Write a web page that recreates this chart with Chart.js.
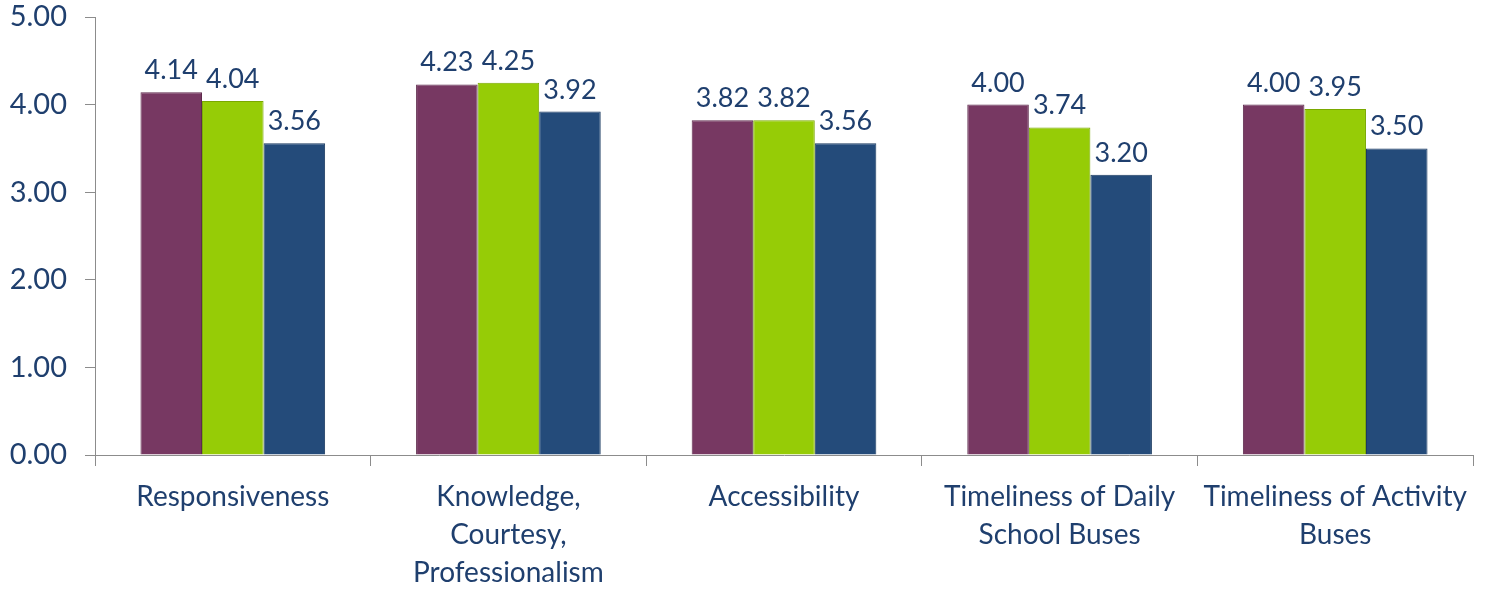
<!DOCTYPE html>
<html>
<head>
<meta charset="utf-8">
<script src="https://cdn.jsdelivr.net/npm/chart.js@4/dist/chart.umd.min.js"></script>
<style>
  html, body { margin: 0; padding: 0; background: #fff; }
  #wrap { width: 1489px; height: 590px; position: relative; }
</style>
</head>
<body>
<div id="wrap"><canvas id="chart"></canvas></div>
<script>
// categories and series
const categories = [
    'Responsiveness',
    ['Knowledge,', 'Courtesy,', 'Professionalism'],
    'Accessibility',
    ['Timeliness of Daily', 'School Buses'],
    ['Timeliness of Activity', 'Buses']
];
const seriesA = [4.14, 4.23, 3.82, 4.00, 4.00];
const seriesB = [4.04, 4.25, 3.82, 3.74, 3.95];
const seriesC = [3.56, 3.92, 3.56, 3.20, 3.50];
const yTicks = [0, 1, 2, 3, 4, 5];

const textColor = '#1f3f6e';
const axisColor = '#8c8c8c';
const fontFamily = 'Lato, "Open Sans", sans-serif';

// value labels above each bar
const valueLabels = {
    id: 'valueLabels',
    afterDatasetsDraw(chart) {
        const ctx = chart.ctx;
        ctx.save();
        ctx.font = '27px ' + fontFamily;
        ctx.fillStyle = textColor;
        ctx.textAlign = 'center';
        ctx.textBaseline = 'alphabetic';
        chart.data.datasets.forEach((ds, i) => {
            chart.getDatasetMeta(i).data.forEach((bar, j) => {
                ctx.fillText(ds.data[j].toFixed(2), bar.x, bar.y - 13);
            });
        });
        ctx.restore();
    }
};

new Chart(document.getElementById('chart').getContext('2d'), {
    type: 'bar',
    data: {
        labels: categories,
        datasets: [{
            data: seriesA,
            backgroundColor: '#773862',
            borderColor: '#5e2a4c',
            borderWidth: 1
        }, {
            data: seriesB,
            backgroundColor: '#96cc06',
            borderColor: '#7aa800',
            borderWidth: 1
        }, {
            data: seriesC,
            backgroundColor: '#244b7a',
            borderColor: '#1a3a60',
            borderWidth: 1
        }]
    },
    options: {
        responsive: true,
        maintainAspectRatio: false,
        animation: false,
        layout: { padding: { top: 17, right: 16, left: 0, bottom: 0 } },
        datasets: {
            bar: { barPercentage: 1, categoryPercentage: 0.67 }
        },
        scales: {
            x: {
                afterFit(scale) { scale.height = 135; },
                grid: {
                    drawOnChartArea: false,
                    drawTicks: true,
                    tickLength: 11,
                    color: axisColor,
                    offset: true
                },
                border: { color: axisColor },
                ticks: {
                    color: textColor,
                    font: { family: fontFamily, size: 28, lineHeight: 1.36 },
                    padding: 12,
                    maxRotation: 0,
                    autoSkip: false
                }
            },
            y: {
                min: 0,
                max: 5,
                afterFit(scale) {
                    scale.width = 95;
                    scale.paddingTop = 0;
                    scale.paddingBottom = 0;
                },
                afterBuildTicks(scale) {
                    scale.ticks = yTicks.map(v => ({ value: v }));
                },
                grid: {
                    drawOnChartArea: false,
                    drawTicks: true,
                    tickLength: 10,
                    color: axisColor
                },
                border: { color: axisColor },
                ticks: {
                    color: textColor,
                    font: { family: fontFamily, size: 29 },
                    padding: 18,
                    callback: v => Number(v).toFixed(2)
                }
            }
        },
        plugins: {
            legend: { display: false },
            tooltip: { enabled: false }
        }
    },
    plugins: [valueLabels]
});
</script>
</body>
</html>
